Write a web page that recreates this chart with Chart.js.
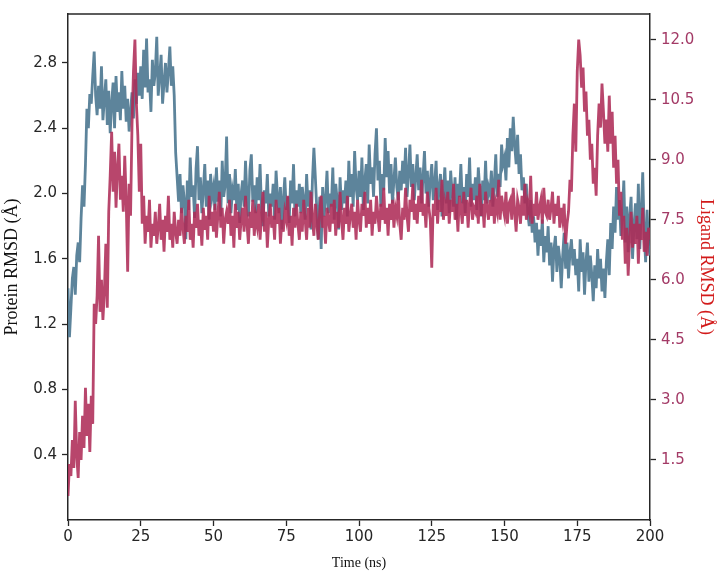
<!DOCTYPE html>
<html>
<head>
<meta charset="utf-8">
<script src="https://cdn.jsdelivr.net/npm/chart.js@4/dist/chart.umd.min.js"></script>
<style>
  body { margin: 0; background: #fff; }
  canvas { display: block; }
</style>
</head>
<body>
<canvas id="rmsd" width="718" height="576"></canvas>
<script>
// sampled every 0.5 ns, 0 .. 200 ns
const TIME_STEP_NS = 0.5

// protein backbone RMSD (Å), left axis
const proteinRmsd = [
    1.42, 1.12, 1.30, 1.48, 1.55, 1.38, 1.62, 1.70, 1.58, 1.85,
    2.05, 1.92, 2.18, 2.52, 2.40, 2.61, 2.55, 2.72, 2.87, 2.60,
    2.48, 2.66, 2.52, 2.78, 2.45, 2.58, 2.70, 2.42, 2.63, 2.37,
    2.55, 2.68, 2.40, 2.72, 2.50, 2.62, 2.45, 2.75, 2.52, 2.66,
    2.44, 2.58, 2.38, 2.50, 2.62, 2.46, 2.70, 2.55, 2.74, 2.60,
    2.78, 2.58, 2.88, 2.65, 2.95, 2.62, 2.70, 2.50, 2.82, 2.66,
    2.74, 2.96, 2.60, 2.72, 2.85, 2.55, 2.68, 2.80, 2.62, 2.75,
    2.90, 2.66, 2.78, 2.60, 2.25, 2.10, 1.95, 2.12, 1.88, 2.05,
    1.95, 1.72, 2.08, 1.90, 2.22, 1.98, 2.05, 1.85, 2.15, 2.29,
    1.96, 2.10, 1.88, 2.02, 2.18, 1.92, 2.08, 1.84, 2.12, 1.98,
    2.04, 1.90, 2.16, 1.95, 2.08, 1.86, 2.20, 1.98, 2.05, 2.35,
    1.94, 2.12, 1.88, 2.02, 1.96, 2.15, 1.90, 2.06, 1.82, 2.00,
    2.08, 1.92, 2.20, 1.98, 1.86, 2.14, 2.24, 1.95, 2.05, 1.88,
    2.10, 1.96, 2.18, 1.90, 1.80, 2.02, 1.94, 2.12, 1.86, 2.00,
    1.92, 2.06, 1.84, 2.14, 1.98, 1.88, 2.04, 1.78, 1.96, 2.10,
    1.90, 1.98, 1.82, 2.08, 1.94, 2.18, 1.86, 2.02, 1.92, 2.06,
    1.88, 2.04, 1.96, 1.84, 2.12, 1.92, 2.02, 1.78, 2.08, 2.28,
    2.10, 1.90, 1.72, 1.98, 1.66, 2.04, 1.86, 1.96, 2.14, 1.88,
    2.00, 1.92, 2.16, 1.84, 2.06, 1.96, 1.78, 2.10, 1.90, 2.02,
    1.94, 2.08, 1.86, 2.20, 1.98, 2.12, 1.92, 2.26, 2.04, 1.96,
    2.14, 1.98, 2.22, 1.90, 2.08, 2.18, 1.94, 2.30, 2.06, 2.16,
    1.98, 2.24, 2.40, 2.08, 2.20, 1.92, 2.12, 2.02, 2.34, 2.10,
    2.26, 2.00, 2.18, 1.94, 2.08, 2.22, 2.04, 1.96, 2.14, 2.02,
    2.20, 2.06, 2.28, 1.98, 2.12, 2.30, 2.04, 2.18, 1.96, 2.10,
    2.24, 2.02, 2.16, 1.94, 2.10, 2.26, 2.00, 2.14, 1.92, 2.08,
    2.18, 1.96, 2.06, 2.20, 1.90, 2.04, 2.12, 1.86, 2.02, 2.16,
    1.94, 2.08, 1.88, 2.14, 2.00, 1.92, 2.10, 1.84, 2.06, 1.98,
    2.18, 1.94, 2.04, 1.88, 2.12, 1.98, 2.22, 1.92, 2.06, 1.96,
    2.10, 1.90, 2.16, 2.02, 1.86, 2.08, 1.96, 2.20, 1.94, 2.04,
    2.00, 2.14, 1.92, 2.06, 2.24, 1.98, 2.12, 2.04, 2.30, 2.18,
    2.22, 2.08, 2.34, 2.16, 2.40, 2.26, 2.47, 2.30, 2.18, 2.36,
    2.12, 2.24, 2.02, 2.10, 1.94, 2.06, 1.88, 1.80, 1.96, 1.76,
    1.86, 1.70, 1.82, 1.62, 1.78, 1.68, 1.84, 1.58, 1.74, 1.64,
    1.80, 1.56, 1.70, 1.46, 1.66, 1.74, 1.52, 1.68, 1.60, 1.42,
    1.62, 1.76, 1.54, 1.70, 1.48, 1.64, 1.72, 1.56, 1.66, 1.50,
    1.60, 1.40, 1.72, 1.52, 1.64, 1.38, 1.58, 1.70, 1.46, 1.62,
    1.50, 1.34, 1.56, 1.42, 1.66, 1.48, 1.60, 1.40, 1.54, 1.36,
    1.58, 1.72, 1.50, 1.82, 1.66, 1.92, 1.76, 2.04, 1.84, 1.96,
    1.74, 1.88, 2.08, 1.70, 1.92, 1.64, 1.86, 1.98, 1.60, 1.80,
    1.94, 1.72, 2.06, 1.66, 1.88, 2.13, 1.76, 1.58, 1.90, 1.68,
    1.62
]

// ligand RMSD (Å), right axis
const ligandRmsd = [
    0.60, 1.40, 1.10, 2.00, 1.30, 2.98, 1.60, 1.05, 2.20, 1.50,
    2.60, 1.80, 3.30, 2.10, 2.90, 1.70, 3.10, 2.40, 5.40, 4.90,
    5.60, 7.10, 5.20, 6.00, 5.00, 5.70, 6.90, 5.30, 7.70, 8.60,
    9.70, 8.20, 9.20, 7.80, 8.80, 9.40, 8.00, 8.60, 7.70, 9.10,
    8.00, 6.20, 8.40, 7.60, 9.90, 11.20, 12.00, 10.40, 9.60, 8.20,
    9.40, 7.40, 8.10, 6.90, 7.60, 7.20, 8.00, 6.80, 7.40, 7.10,
    7.70, 6.90, 7.30, 7.90, 7.00, 7.50, 6.70, 7.60, 7.20, 8.10,
    7.00, 7.40, 6.80, 7.70, 7.20, 6.90, 7.50, 7.10, 7.80, 7.30,
    6.90, 7.60, 7.20, 8.00, 7.00, 7.40, 6.80, 7.70, 7.30, 7.90,
    7.10, 7.50, 6.85, 7.80, 7.25, 7.60, 7.00, 8.10, 7.35, 7.70,
    7.20, 7.90, 7.05, 7.60, 8.20, 7.30, 7.80, 6.90, 7.50, 7.70,
    7.40, 8.00, 7.10, 7.60, 6.80, 7.90, 7.30, 7.70, 7.00, 7.50,
    7.80, 7.20, 8.10, 7.40, 6.90, 7.70, 7.30, 8.00, 7.10, 7.60,
    7.35, 7.90, 7.00, 7.60, 8.20, 7.20, 7.70, 6.80, 7.50, 7.90,
    7.30, 7.60, 7.00, 8.00, 7.40, 7.80, 6.90, 7.50, 7.20, 7.70,
    7.50, 8.10, 7.10, 7.60, 6.85, 7.80, 7.30, 7.90, 7.40, 7.00,
    7.70, 7.20, 8.00, 7.50, 7.00, 7.80, 7.30, 8.20, 7.50, 7.10,
    7.90, 7.40, 7.00, 7.70, 8.10, 7.30, 7.60, 6.90, 7.80, 7.50,
    7.20, 7.90, 7.40, 8.00, 7.10, 7.70, 7.30, 8.20, 7.50, 7.00,
    7.80, 7.40, 8.10, 7.20, 7.60, 7.90, 7.30, 7.70, 7.00, 8.00,
    7.50, 7.20, 7.90, 7.60, 8.20, 7.30, 7.80, 7.40, 8.00, 7.10,
    7.70, 7.40, 8.10, 7.60, 7.20, 7.90, 7.50, 8.30, 7.40, 7.80,
    7.10, 7.90, 7.50, 8.00, 7.30, 7.80, 7.60, 8.20, 7.40, 7.00,
    7.80, 7.50, 8.30, 7.60, 7.20, 8.00, 7.70, 8.40, 7.50, 7.90,
    7.40, 8.10, 7.70, 8.50, 7.60, 7.90, 7.30, 8.20, 7.80, 7.50,
    6.30, 7.90, 7.60, 8.30, 7.40, 8.00, 7.70, 8.50, 7.50, 7.90,
    7.60, 8.20, 7.40, 8.00, 7.70, 8.40, 7.50, 7.90, 7.20, 8.10,
    7.80, 7.40, 8.20, 7.60, 8.00, 7.30, 7.90, 8.30, 7.50, 7.80,
    7.70, 8.10, 7.40, 8.40, 7.60, 7.90, 7.30, 8.20, 7.80, 7.50,
    8.00, 7.60, 8.30, 7.40, 7.90, 7.70, 8.50, 7.50, 8.10, 7.80,
    7.60, 8.20, 7.40, 7.90, 8.00, 7.50, 8.30, 7.70, 7.20, 8.00,
    7.80, 7.40, 8.10, 7.60, 8.40, 7.50, 7.90, 7.70, 8.60, 7.40,
    7.90, 7.60, 8.20, 7.50, 7.80, 8.00, 7.40, 8.30, 7.70, 7.60,
    8.00, 7.50, 7.80, 8.20, 7.40, 7.90, 7.60, 8.10, 7.30, 7.80,
    7.50, 7.90, 6.90, 7.40, 7.70, 8.50, 8.20, 9.60, 10.40, 9.20,
    11.20, 12.00, 11.60, 10.80, 11.30, 10.20, 10.70, 9.60, 10.00, 9.00,
    9.40, 8.40, 8.80, 8.10, 9.60, 10.40, 9.80, 10.90, 10.20, 9.40,
    10.00, 9.20, 10.60, 9.40, 10.20, 8.80, 9.60, 8.40, 9.00, 7.60,
    8.20, 7.00, 7.60, 6.40, 7.30, 6.10, 7.00, 7.70, 6.80, 7.40,
    6.90, 7.60, 6.40, 7.40, 7.00, 7.80, 6.70, 7.20, 6.60, 7.30,
    7.00
]

const timeTicks = [0, 25, 50, 75, 100, 125, 150, 175, 200]
const proteinTicks = [0.4, 0.8, 1.2, 1.6, 2.0, 2.4, 2.8]
const ligandTicks = [1.5, 3.0, 4.5, 6.0, 7.5, 9.0, 10.5, 12.0]

const toPoints = values => values.map((v, i) => ({ x: i * TIME_STEP_NS, y: v }))
const fixedTicks = list => scale => { scale.ticks = list.map(value => ({ value })) }

const frameTop = {
    id: 'frameTop',
    afterDraw(chart) {
        const { ctx, chartArea } = chart
        ctx.save()
        ctx.strokeStyle = '#262626'
        ctx.lineWidth = 1.5
        ctx.beginPath()
        ctx.moveTo(chartArea.left, chartArea.top)
        ctx.lineTo(chartArea.right, chartArea.top)
        ctx.stroke()
        ctx.restore()
    }
}

const tickFont = { family: 'DejaVu Sans', size: 15 }

new Chart(document.getElementById('rmsd'), {
    type: 'line',
    data: {
        datasets: [
            {
                label: 'Protein',
                data: toPoints(proteinRmsd),
                yAxisID: 'y',
                borderColor: 'rgba(84, 125, 150, 0.95)',
                borderWidth: 2.8,
                pointRadius: 0,
                order: 2
            },
            {
                label: 'Ligand',
                data: toPoints(ligandRmsd),
                yAxisID: 'y1',
                borderColor: 'rgba(174, 44, 88, 0.88)',
                borderWidth: 2.8,
                pointRadius: 0,
                order: 1
            }
        ]
    },
    options: {
        responsive: false,
        animation: false,
        layout: { padding: { top: 7 } },
        plugins: {
            legend: { display: false },
            tooltip: { enabled: false }
        },
        scales: {
            x: {
                type: 'linear',
                min: 0,
                max: 200,
                afterBuildTicks: fixedTicks(timeTicks),
                afterFit(scale) { scale.height = 56 },
                border: { color: '#262626', width: 1.5 },
                grid: { drawOnChartArea: false, tickLength: 6, tickColor: '#262626', tickWidth: 1.3 },
                ticks: { color: '#262626', font: tickFont, padding: 2, maxRotation: 0 },
                title: {
                    display: true,
                    text: 'Time (ns)',
                    color: '#111',
                    font: { family: 'Liberation Serif', size: 14 },
                    padding: { top: 0, bottom: 4 }
                }
            },
            y: {
                position: 'left',
                min: 0,
                max: 3.1,
                afterBuildTicks: fixedTicks(proteinTicks),
                afterFit(scale) { scale.width = 68 },
                border: { color: '#262626', width: 1.5 },
                grid: { drawOnChartArea: false, tickLength: 6, tickColor: '#262626', tickWidth: 1.3 },
                ticks: {
                    color: '#262626',
                    font: tickFont,
                    padding: 5,
                    callback: v => Number(v).toFixed(1)
                },
                title: {
                    display: true,
                    text: 'Protein RMSD (Å)',
                    color: '#111',
                    font: { family: 'Liberation Serif', size: 18 },
                    padding: { top: 1, bottom: 0 }
                }
            },
            y1: {
                position: 'right',
                min: 0,
                max: 12.64,
                afterBuildTicks: fixedTicks(ligandTicks),
                afterFit(scale) { scale.width = 68 },
                border: { color: '#262626', width: 1.5 },
                grid: { drawOnChartArea: false, tickLength: 6, tickColor: '#262626', tickWidth: 1.3 },
                ticks: {
                    color: '#a33a66',
                    font: tickFont,
                    padding: 5,
                    callback: v => Number(v).toFixed(1)
                },
                title: {
                    display: true,
                    text: 'Ligand RMSD (Å)',
                    color: '#d21a1a',
                    font: { family: 'Liberation Serif', size: 18 },
                    padding: { top: 1, bottom: 0 }
                }
            }
        }
    },
    plugins: [frameTop]
})
</script>
</body>
</html>
